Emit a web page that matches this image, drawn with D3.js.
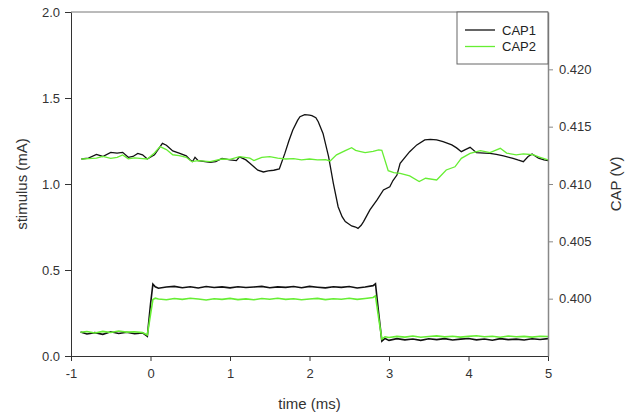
<!DOCTYPE html>
<html>
<head>
<meta charset="utf-8">
<script src="https://cdn.jsdelivr.net/npm/d3@7"></script>
<style>
    body { margin: 0; background: #fff; }
    svg { display: block; font-family: "Liberation Sans", Arial, sans-serif; }
    .axis text { fill: #333; font-size: 13px; }
</style>
</head>
<body>
<div id="chart"></div>
<script>

// stimulus traces (left axis, mA)
var stimTime = [-0.88, -0.8, -0.7, -0.6, -0.5, -0.4, -0.3, -0.2, -0.1, -0.04, 0.0, 0.03, 0.06,
    0.1, 0.2, 0.3, 0.4, 0.5, 0.6, 0.7, 0.8, 0.9, 1.0, 1.1, 1.2, 1.3, 1.4, 1.5, 1.6, 1.7, 1.8, 1.9,
    2.0, 2.1, 2.2, 2.3, 2.4, 2.5, 2.6, 2.7, 2.8, 2.83, 2.87, 2.91, 2.95,
    3.0, 3.1, 3.2, 3.3, 3.4, 3.5, 3.6, 3.7, 3.8, 3.9, 4.0, 4.1, 4.2, 4.3, 4.4, 4.5, 4.6, 4.7, 4.8, 4.9, 5.0];
var stim1 = [0.140, 0.128, 0.136, 0.126, 0.141, 0.131, 0.138, 0.129, 0.134, 0.114, 0.300, 0.418, 0.402,
    0.394, 0.401, 0.405, 0.397, 0.403, 0.395, 0.404, 0.398, 0.402, 0.396, 0.403, 0.398, 0.401, 0.405, 0.397, 0.402, 0.399, 0.404, 0.397,
    0.405, 0.400, 0.396, 0.403, 0.399, 0.404, 0.395, 0.401, 0.409, 0.420, 0.250, 0.086, 0.102,
    0.091, 0.101, 0.094, 0.099, 0.091, 0.100, 0.095, 0.101, 0.093, 0.098, 0.102, 0.094, 0.099, 0.092, 0.101, 0.095, 0.098, 0.093, 0.100, 0.096, 0.101];
var stim2 = [0.138, 0.142, 0.134, 0.143, 0.137, 0.145, 0.139, 0.141, 0.136, 0.122, 0.240, 0.328, 0.336,
    0.331, 0.327, 0.334, 0.329, 0.336, 0.331, 0.326, 0.333, 0.329, 0.335, 0.328, 0.332, 0.327, 0.334, 0.330, 0.336, 0.329, 0.333, 0.327,
    0.331, 0.335, 0.328, 0.333, 0.330, 0.336, 0.329, 0.334, 0.340, 0.350, 0.220, 0.098, 0.112,
    0.108, 0.114, 0.110, 0.116, 0.109, 0.113, 0.117, 0.111, 0.115, 0.110, 0.114, 0.118, 0.112, 0.115, 0.109, 0.116, 0.112, 0.114, 0.110, 0.115, 0.113];

// compound action potentials (right axis, V)
var cap1Time = [-0.87, -0.78, -0.68, -0.6, -0.5, -0.42, -0.35, -0.28, -0.22, -0.16, -0.1, -0.04, 0.05, 0.15, 0.2,
    0.28, 0.36, 0.45, 0.5, 0.53, 0.56, 0.6, 0.75, 0.82, 0.9, 1.0, 1.08, 1.12, 1.2, 1.25, 1.35, 1.42, 1.48, 1.55,
    1.62, 1.69, 1.74, 1.79, 1.85, 1.88, 1.94, 2.0, 2.03, 2.08, 2.11, 2.17, 2.24, 2.30, 2.36, 2.41, 2.45, 2.53,
    2.58, 2.61, 2.65, 2.68, 2.76, 2.85, 2.93, 3.01, 3.05, 3.10, 3.14, 3.26, 3.35, 3.45, 3.52, 3.60, 3.68, 3.79,
    3.85, 3.91, 3.96, 4.02, 4.1, 4.2, 4.27, 4.35, 4.44, 4.56, 4.62, 4.69, 4.75, 4.8, 4.88, 4.95, 5.0];
var cap1 = [0.41218, 0.41225, 0.41258, 0.4124, 0.41276, 0.4127, 0.41276, 0.41233, 0.4124, 0.41267, 0.41255, 0.41218, 0.41255, 0.41354, 0.41338,
    0.41288, 0.4127, 0.41245, 0.4121, 0.41195, 0.41233, 0.41203, 0.41189, 0.41195, 0.41224, 0.4121, 0.41204, 0.41237, 0.4121, 0.4118, 0.4112, 0.41105, 0.41114, 0.4112,
    0.41131, 0.41267, 0.41375, 0.41471, 0.41555, 0.41587, 0.41605, 0.416, 0.41596, 0.41578, 0.41543, 0.41441, 0.41239, 0.41006, 0.40802, 0.40715, 0.40672, 0.40634,
    0.40625, 0.40613, 0.4064, 0.40672, 0.40774, 0.40861, 0.40948, 0.40976, 0.4103, 0.41078, 0.4118, 0.41282, 0.41341, 0.41384, 0.4139, 0.41384, 0.41369, 0.41341,
    0.41315, 0.41282, 0.413, 0.4132, 0.41273, 0.4127, 0.41267, 0.41258, 0.41245, 0.41224, 0.4121, 0.41195, 0.4124, 0.41261, 0.41225, 0.4121, 0.41204];

var cap2Time = [-0.87, -0.78, -0.68, -0.6, -0.5, -0.42, -0.35, -0.28, -0.2, -0.1, -0.04, 0.05, 0.12, 0.2, 0.28,
    0.36, 0.45, 0.52, 0.6, 0.75, 0.9, 1.0, 1.12, 1.25, 1.3, 1.4, 1.5, 1.6, 1.7, 1.8, 1.9, 2.0, 2.1, 2.2,
    2.26, 2.34, 2.45, 2.53, 2.58, 2.63, 2.7, 2.8, 2.87, 2.91, 2.99, 3.06, 3.14, 3.26, 3.38, 3.46, 3.6, 3.72,
    3.83, 3.91, 4.02, 4.15, 4.27, 4.40, 4.48, 4.60, 4.69, 4.81, 4.90, 5.0];
var cap2 = [0.41218, 0.41222, 0.41225, 0.4124, 0.41224, 0.41233, 0.41254, 0.41219, 0.41228, 0.41222, 0.41218, 0.4127, 0.41326, 0.413, 0.41255,
    0.41248, 0.41233, 0.41195, 0.41203, 0.41195, 0.41218, 0.41215, 0.41239, 0.41225, 0.41204, 0.41233, 0.41239, 0.41225, 0.41218, 0.41222, 0.4121, 0.41218, 0.4121, 0.41213,
    0.41201, 0.41254, 0.41291, 0.41317, 0.41293, 0.41285, 0.41273, 0.41285, 0.41297, 0.41293, 0.41116, 0.41099, 0.41093, 0.41071, 0.41021, 0.4105, 0.41035, 0.41122,
    0.4115, 0.41224, 0.41267, 0.41291, 0.41273, 0.41311, 0.4127, 0.41254, 0.41263, 0.41255, 0.41233, 0.4121];

var xTicks = [-1, 0, 1, 2, 3, 4, 5];
var leftTicks = [0.0, 0.5, 1.0, 1.5, 2.0];
var rightTicks = [0.400, 0.405, 0.410, 0.415, 0.420];
var seriesNames = ["CAP1", "CAP2"];
var seriesColors = ["#111111", "#66ee33"];

var totalWidth = 640,
    totalHeight = 418,
    margin = {top: 12, right: 92, bottom: 62, left: 71},
    width = totalWidth - margin.left - margin.right,
    height = totalHeight - margin.top - margin.bottom;

var svg = d3.select("#chart").append("svg")
    .attr("width", totalWidth)
    .attr("height", totalHeight);

var g = svg.append("g")
    .attr("transform", "translate(" + margin.left + "," + margin.top + ")");

var x = d3.scaleLinear()
    .domain([-1, 5])
    .range([0, width]);

var yLeft = d3.scaleLinear()
    .domain([0, 2])
    .range([height, 0]);

var yRight = d3.scaleLinear()
    .domain([0.395, 0.425])
    .range([height, 0]);

function zipSeries(times, values) {
    return times.map(function(t, i) { return [t, values[i]]; });
}

var lineLeft = d3.line()
    .x(function(d) { return x(d[0]); })
    .y(function(d) { return yLeft(d[1]); });

var lineRight = d3.line()
    .x(function(d) { return x(d[0]); })
    .y(function(d) { return yRight(d[1]); });

// frame top edge
g.append("line")
    .attr("x1", 0).attr("x2", width)
    .attr("y1", 0).attr("y2", 0)
    .style("stroke", "#777")
    .style("stroke-width", "1px");

// traces
g.append("path")
    .datum(zipSeries(stimTime, stim1))
    .attr("d", lineLeft)
    .style("fill", "none")
    .style("stroke", seriesColors[0])
    .style("stroke-width", "1.6px");

g.append("path")
    .datum(zipSeries(stimTime, stim2))
    .attr("d", lineLeft)
    .style("fill", "none")
    .style("stroke", seriesColors[1])
    .style("stroke-width", "1.6px");

g.append("path")
    .datum(zipSeries(cap1Time, cap1))
    .attr("d", lineRight)
    .style("fill", "none")
    .style("stroke", seriesColors[0])
    .style("stroke-width", "1.3px");

g.append("path")
    .datum(zipSeries(cap2Time, cap2))
    .attr("d", lineRight)
    .style("fill", "none")
    .style("stroke", seriesColors[1])
    .style("stroke-width", "1.3px");

// axes
var xAxis = g.append("g")
    .attr("class", "axis")
    .attr("transform", "translate(0," + height + ")")
    .call(d3.axisBottom(x).tickValues(xTicks).tickFormat(function(d) { return String(d); })
        .tickSize(5).tickSizeOuter(0).tickPadding(8));

var leftAxis = g.append("g")
    .attr("class", "axis")
    .call(d3.axisLeft(yLeft).tickValues(leftTicks).tickFormat(d3.format(".1f")).tickSize(6).tickSizeOuter(0).tickPadding(5));

var rightAxis = g.append("g")
    .attr("class", "axis")
    .attr("transform", "translate(" + width + ",0)")
    .call(d3.axisRight(yRight).tickValues(rightTicks).tickFormat(d3.format(".3f")).tickSize(5).tickSizeOuter(0).tickPadding(6));

xAxis.selectAll("path, line").style("stroke", "#333");
leftAxis.selectAll("path, line").style("stroke", "#333");
rightAxis.selectAll("path, line").style("stroke", "#888");
rightAxis.select(".domain").style("stroke-width", "1.5px");

// axis titles
svg.append("text")
    .attr("x", margin.left + width / 2)
    .attr("y", 409)
    .attr("text-anchor", "middle")
    .style("font-size", "15px")
    .style("fill", "#333")
    .text("time (ms)");

svg.append("text")
    .attr("transform", "translate(27," + (margin.top + height / 2) + ") rotate(-90)")
    .attr("text-anchor", "middle")
    .style("font-size", "15px")
    .style("fill", "#333")
    .text("stimulus (mA)");

svg.append("text")
    .attr("transform", "translate(621," + (margin.top + height / 2) + ") rotate(-90)")
    .attr("text-anchor", "middle")
    .style("font-size", "15px")
    .style("fill", "#333")
    .text("CAP (V)");

// legend
var legend = g.append("g")
    .attr("class", "legend")
    .attr("transform", "translate(" + (width - 91) + ",0)");

legend.append("rect")
    .attr("width", 91)
    .attr("height", 52)
    .style("fill", "#fff")
    .style("stroke", "#666")
    .style("stroke-width", "1px");

var legendItem = legend.selectAll(".legend-item")
    .data(seriesNames)
    .enter().append("g")
    .attr("class", "legend-item")
    .attr("transform", function(d, i) { return "translate(0," + (18 + i * 16.5) + ")"; });

legendItem.append("line")
    .attr("x1", 8)
    .attr("x2", 38)
    .style("stroke", function(d, i) { return seriesColors[i]; })
    .style("stroke-width", "1.3px");

legendItem.append("text")
    .attr("x", 45)
    .attr("dy", ".36em")
    .style("font-size", "13px")
    .style("fill", "#222")
    .text(function(d) { return d; });

</script>
</body>
</html>
